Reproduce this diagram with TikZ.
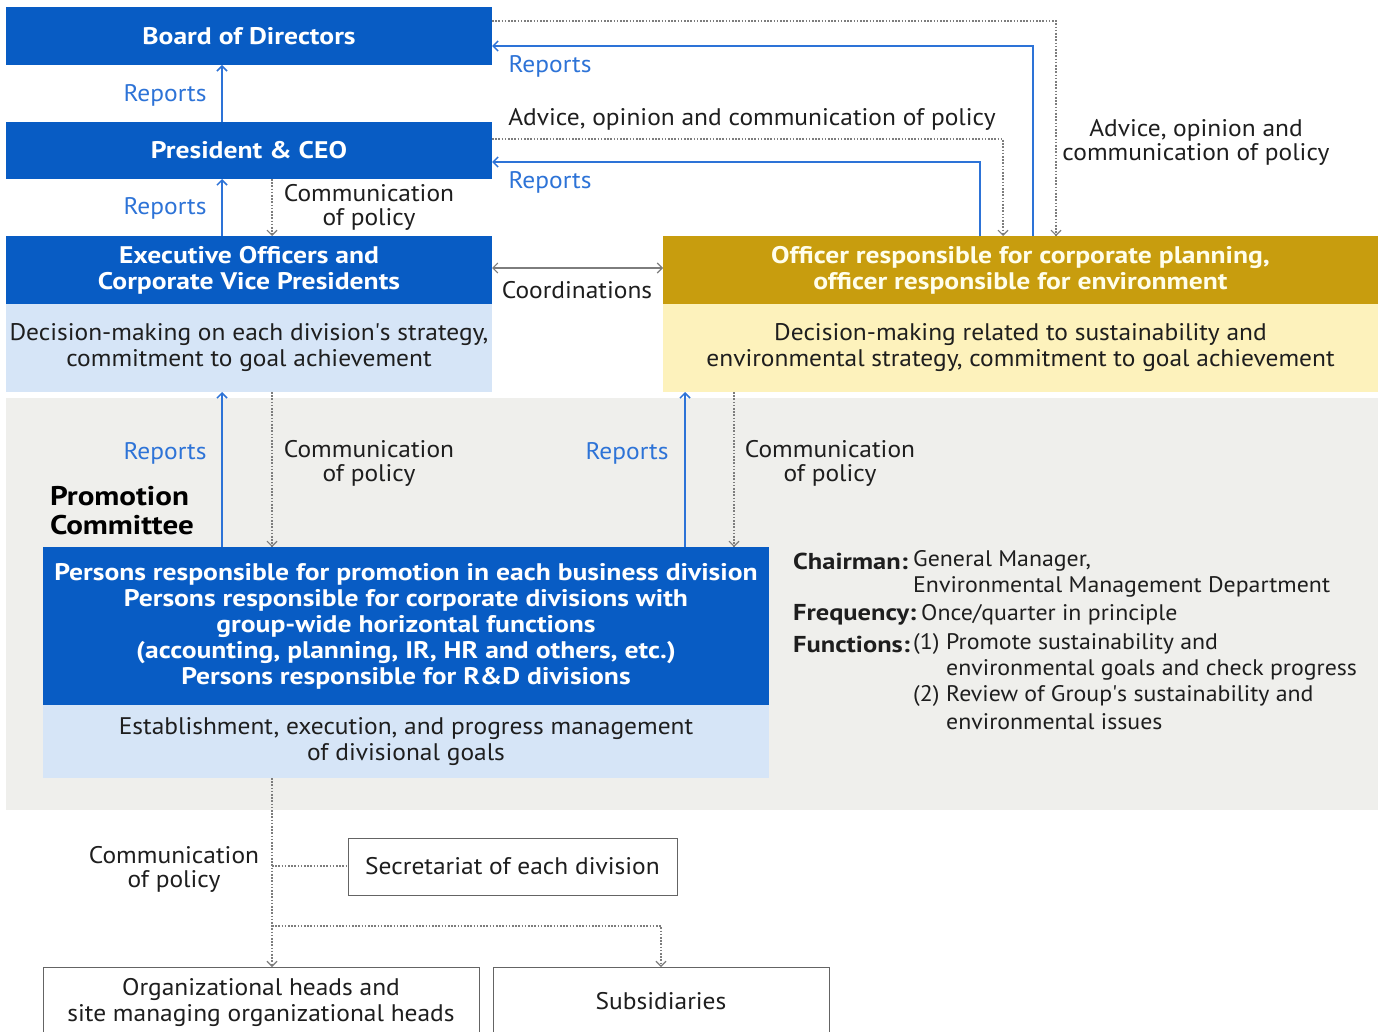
\documentclass[tikz,border=0pt]{standalone}
\usepackage{fontspec}
\setmainfont{PT Sans}[UprightFeatures={FakeStretch=1.06}, BoldFeatures={FakeStretch=1.15}]
\usetikzlibrary{arrows.meta,calc}
\definecolor{dblue}{RGB}{8,92,196}
\definecolor{rblue}{RGB}{45,115,215}
\definecolor{lblue}{RGB}{214,229,247}
\definecolor{gold}{RGB}{200,157,14}
\definecolor{lyel}{RGB}{253,242,188}
\definecolor{bggrey}{RGB}{239,239,236}
\definecolor{dotgrey}{RGB}{125,125,125}
\definecolor{txt}{RGB}{30,30,30}
\begin{document}
\begin{tikzpicture}[x=1pt,y=-1pt,
  bx/.style={inner sep=0pt, anchor=north west, align=center, outer sep=0pt},
  hd/.style={bx, fill=dblue, text=white, font=\fontsize{24}{26}\selectfont\bfseries},
  gd/.style={bx, fill=gold, text=white!92!yellow, font=\fontsize{24}{26}\selectfont\bfseries},
  lb/.style={bx, fill=lblue, text=txt, font=\fontsize{24}{26}\selectfont},
  ly/.style={bx, fill=lyel, text=txt, font=\fontsize{24}{26}\selectfont},
  wb/.style={bx, draw=dotgrey!80!black, line width=1pt, fill=white, text=txt, font=\fontsize{24}{26}\selectfont},
  rlab/.style={text=rblue, font=\fontsize{24}{26}\selectfont, inner sep=0pt},
  blab/.style={text=txt, font=\fontsize{24}{24}\selectfont, inner sep=0pt, align=center},
  rep/.style={draw=rblue, line width=1.5pt, -{Straight Barb[length=5pt,width=10pt]}},
  pol/.style={draw=dotgrey, line width=1.1pt, dash pattern=on 1.6pt off 1.6pt, -{Straight Barb[length=5pt,width=10pt]}},
  poln/.style={draw=dotgrey, line width=1.1pt, dash pattern=on 1.6pt off 1.6pt},
  kv/.style={anchor=west, inner sep=0pt, text=txt, font=\fontsize{22.5}{26}\selectfont},
  kb/.style={kv, font=\fontsize{23}{26}\selectfont\bfseries},
]
\fill[white] (0,0) rectangle (1381,1032);
\useasboundingbox (0,0) rectangle (1381,1032);
% grey committee region
\fill[bggrey] (6,398) rectangle (1378,810);

% top boxes
\node[hd, minimum width=486pt, minimum height=58pt] (board) at (6,7) {Board of Directors};
\node[hd, minimum width=486pt, minimum height=57pt] (pres) at (6,122) {President \& CEO};
\node[hd, minimum width=486pt, minimum height=68pt] (exec) at (6,236) {Executive Officers and\\Corporate Vice Presidents};
\node[lb, minimum width=486pt, minimum height=88pt] (execd) at (6,304) {Decision-making on each division\textquotesingle s strategy,\\commitment to goal achievement};
\node[gd, minimum width=715pt, minimum height=68pt] (off) at (663,236) {Officer responsible for corporate planning,\\officer responsible for environment};
\node[ly, minimum width=715pt, minimum height=88pt] (offd) at (663,304) {Decision-making related to sustainability and\\environmental strategy, commitment to goal achievement};

% promotion committee
\node[hd, minimum width=726pt, minimum height=158pt] (prom) at (43,547) {Persons responsible for promotion in each business division\\Persons responsible for corporate divisions with\\group-wide horizontal functions\\(accounting, planning, IR, HR and others, etc.)\\Persons responsible for R\&D divisions};
\node[lb, minimum width=726pt, minimum height=73pt] (promd) at (43,705) {Establishment, execution, and progress management\\of divisional goals};
\node[inner sep=0pt, align=left, text=black, font=\fontsize{27}{29}\selectfont\bfseries] (pc) at (122,511) {Promotion\\Committee};

% bottom boxes
\node[wb, minimum width=329pt, minimum height=57pt] (sec) at (348,838) {Secretariat of each division};
\node[wb, minimum width=436pt, minimum height=70pt] (org) at (43,967) {Organizational heads and\\site managing organizational heads};
\node[wb, minimum width=336pt, minimum height=68pt] (sub) at (493,967) {Subsidiaries};

% coordinates for vertical lines
\coordinate (xa) at (222,0);
\coordinate (xb) at (272,0);
\coordinate (xc) at (685,0);
\coordinate (xd) at (734,0);
\coordinate (xe) at (980,0);
\coordinate (xf) at (1003,0);
\coordinate (xg) at (1033,0);
\coordinate (xh) at (1056,0);
\coordinate (xs) at (661,0);

% board/president/exec
\draw[rep] (pres.north -| xa) -- (board.south -| xa);
\draw[rep] (exec.north -| xa) -- (pres.south -| xa);
\draw[pol] (pres.south -| xb) -- (exec.north -| xb);
\node[rlab] (l1) at (165,95) {Reports};
\node[rlab] (l2) at (165,208) {Reports};
\node[blab] (l3) at (369,207) {Communication\\of policy};

% officer to top
\draw[rep] (off.north -| xg) |- (board.east |- 0,46);
\draw[rep] (off.north -| xe) |- (pres.east |- 0,162);
\draw[pol] (board.east |- 0,21) -| (off.north -| xh);
\draw[pol] (pres.east |- 0,139) -| (off.north -| xf);
\node[rlab] (l4) at (550,66) {Reports};
\node[rlab] (l5) at (550,182) {Reports};
\node[blab] (l6) at (752,119) {Advice, opinion and communication of policy};
\node[blab] (l7) at (1196,142) {Advice, opinion and\\communication of policy};

% coordinations
\draw[draw=dotgrey, line width=1.1pt, {Straight Barb[length=5pt,width=10pt]}-{Straight Barb[length=5pt,width=10pt]}] (exec.east |- 0,268) -- (off.west |- 0,268);
\node[blab] (l8) at (577,290) {Coordinations};

% promotion to exec / officer
\draw[rep] (prom.north -| xa) -- (execd.south -| xa);
\draw[pol] (execd.south -| xb) -- (prom.north -| xb);
\draw[rep] (prom.north -| xc) -- (offd.south -| xc);
\draw[pol] (offd.south -| xd) -- (prom.north -| xd);
\node[rlab] (l9) at (165,453) {Reports};
\node[blab] (l10) at (369,463) {Communication\\of policy};
\node[rlab] (l11) at (627,453) {Reports};
\node[blab] (l12) at (830,463) {Communication\\of policy};

% committee info
\node[kb] (k1) at (793,561) {Chairman:};
\node[kv] (v1) at (913,561) {General Manager,};
\node[kv] (v1b) at (913,587) {Environmental Management Department};
\node[kb] (k2) at (793,615) {Frequency:};
\node[kv] (v2) at (921,615) {Once/quarter in principle};
\node[kb] (k3) at (793,644) {Functions:};
\node[kv] (n1) at (913,644) {(1)};
\node[kv] (v3) at (946,644) {Promote sustainability and};
\node[kv] (v3b) at (946,670) {environmental goals and check progress};
\node[kv] (n2) at (913,696) {(2)};
\node[kv] (v4) at (946,696) {Review of Group\textquotesingle s sustainability and};
\node[kv] (v4b) at (946,722) {environmental issues};

% lower policy lines
\coordinate (jsec) at (272,866);
\coordinate (jsub) at (272,926);
\draw[pol] (promd.south -| xb) -- (org.north -| xb);
\draw[poln] (jsec) -- (sec.west |- jsec);
\draw[pol] (jsub) -| (sub.north -| xs);
\node[blab] (l13) at (174,869) {Communication\\of policy};
\end{tikzpicture}
\end{document}
